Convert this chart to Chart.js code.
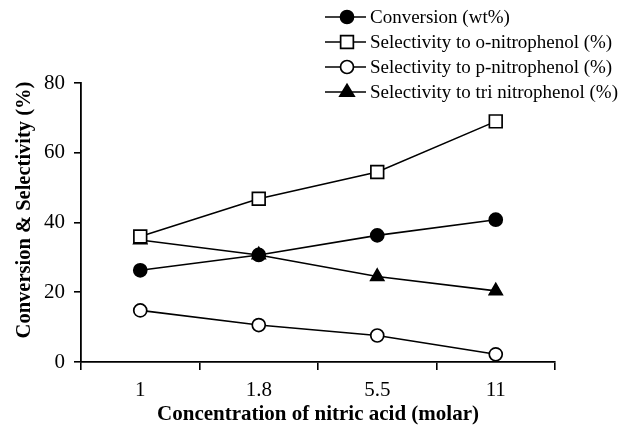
<!DOCTYPE html>
<html><head><meta charset="utf-8">
<script src="https://cdn.jsdelivr.net/npm/chart.js@4"></script>
<style>html,body{margin:0;padding:0;background:#fff}#wrap{width:630px;height:428px}</style>
</head><body><div id="wrap"><canvas id="c" width="630" height="428"></canvas></div>
<script>
const categories = ['1', '1.8', '5.5', '11'];
const conversion = [26.3, 30.7, 36.3, 40.8];
const oNitro = [36, 46.8, 54.5, 69];
const pNitro = [14.8, 10.6, 7.6, 2.2];
const triNitro = [35, 30.7, 24.5, 20.4];
const yTicks = [0, 20, 40, 60, 80];
const seriesNames = ['Conversion (wt%)', 'Selectivity to o-nitrophenol (%)', 'Selectivity to p-nitrophenol (%)', 'Selectivity to tri nitrophenol (%)'];
const yTitle = 'Conversion & Selectivity (%)';
const xTitle = 'Concentration of nitric acid (molar)';

const SERIF = '"Liberation Serif", "DejaVu Serif", serif';
function ds(label, data, style, bg, r) {
  return {label, data, borderColor:'#000', borderWidth:1.6, backgroundColor:bg,
    pointStyle:style, pointRadius:r, pointHoverRadius:r, pointBorderColor:'#000',
    pointBackgroundColor:bg, pointBorderWidth:1.7, tension:0, fill:false};
}
function marker(ctx, d, x, y){
  ctx.fillStyle = d.pointBackgroundColor; ctx.strokeStyle='#000'; ctx.lineWidth=1.7;
  ctx.beginPath();
  const r = d.pointRadius;
  if (d.pointStyle==='circle'){ ctx.arc(x,y,r,0,Math.PI*2); }
  else if (d.pointStyle==='rect'){ const s=r*Math.SQRT1_2; ctx.rect(x-s,y-s,2*s,2*s); }
  else { ctx.moveTo(x, y-r); ctx.lineTo(x-r*0.95, y+r*0.55); ctx.lineTo(x+r*0.95, y+r*0.55); ctx.closePath(); }
  ctx.fill(); ctx.stroke();
}
const extrasPlugin = {
  id:'extras',
  afterDraw(chart){
    const ctx = chart.ctx;
    const rows = [17, 42, 67, 92];
    ctx.save();
    chart.data.datasets.forEach((d,i)=>{
      const y = rows[i];
      ctx.strokeStyle='#000'; ctx.lineWidth=1.6;
      ctx.beginPath(); ctx.moveTo(325,y); ctx.lineTo(366,y); ctx.stroke();
      marker(ctx, d, 347, y);
      ctx.fillStyle='#000'; ctx.font='19px '+SERIF; ctx.textBaseline='middle'; ctx.textAlign='left';
      ctx.fillText(d.label, 370, y+1);
    });
    // y-axis title
    ctx.translate(25, 210); ctx.rotate(-Math.PI/2);
    ctx.font='bold 20.5px '+SERIF; ctx.textAlign='center'; ctx.textBaseline='middle'; ctx.fillStyle='#000';
    ctx.fillText(yTitle, 0, 0);
    ctx.restore();
  }
};
new Chart(document.getElementById('c'), {
  type:'line',
  data:{labels:categories, datasets:[
    ds(seriesNames[0], conversion, 'circle', '#000', 6.5),
    ds(seriesNames[1], oNitro, 'rect', '#fff', 9),
    ds(seriesNames[2], pNitro, 'circle', '#fff', 6.5),
    ds(seriesNames[3], triNitro, 'triangle', '#000', 7.5)
  ]},
  options:{
    responsive:false, animation:false, devicePixelRatio:1,
    layout:{padding:{left:0, right:75, top:83, bottom:0}},
    plugins:{legend:{display:false}, tooltip:{enabled:false}},
    scales:{
      x:{type:'category', offset:true,
        grid:{display:true, offset:true, drawOnChartArea:false, tickLength:8, color:'#000', lineWidth:1.6},
        border:{display:true, color:'#000', width:1.8},
        ticks:{color:'#000', font:{family:SERIF, size:21}, padding:8},
        title:{display:true, text:xTitle, color:'#000', font:{family:SERIF, size:21, weight:'bold'}, padding:{top:0,bottom:1}},
        afterFit(s){ s.height = 66; }
      },
      y:{min:0, max:80,
        afterBuildTicks(s){ s.ticks = yTicks.map(v=>({value:v})); },
        grid:{display:true, drawOnChartArea:false, tickLength:7, color:'#000', lineWidth:1.6},
        border:{display:true, color:'#000', width:1.8},
        ticks:{color:'#000', font:{family:SERIF, size:21}, padding:9},
        title:{display:false},
        afterFit(s){ s.width = 81; }
      }
    }
  },
  plugins:[extrasPlugin]
});
</script></body></html>
